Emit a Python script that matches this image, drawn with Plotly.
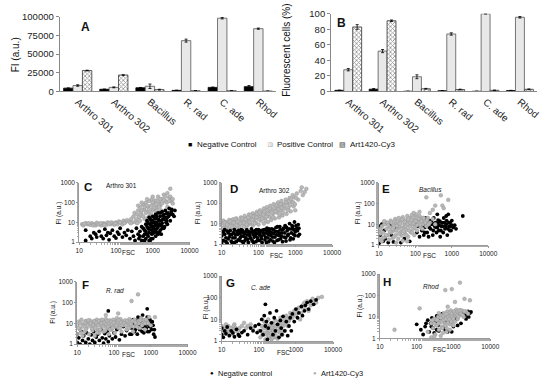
import plotly.graph_objects as go

W, H = 550, 386
def px(x): return x / W
def py(y): return 1 - y / H

categories = ["Arthro 301", "Arthro 302", "Bacillus", "R. rad", "C. ade", "Rhod"]

# Panel A: FI (a.u.)
A_neg = [4500, 3000, 5000, 1500, 5500, 6500]
A_neg_err = [300, 300, 400, 300, 400, 1500]
A_pos = [8000, 5500, 7000, 68000, 98000, 84000]
A_pos_err = [1000, 600, 3000, 2000, 1000, 800]
A_art = [28000, 22000, 2500, 1000, 1000, 500]
A_art_err = [500, 400, 500, 200, 200, 100]

# Panel B: fluorescent cells (%)
B_neg = [1.5, 3.0, 0.3, 1.0, 0.3, 1.2]
B_neg_err = [0.3, 0.8, 0.1, 0.2, 0.1, 0.3]
B_pos = [28, 52, 19, 74, 100, 95.5]
B_pos_err = [1.5, 2.0, 2.5, 1.5, 0.3, 1.0]
B_art = [83, 91, 3.5, 2.5, 1.5, 2.8]
B_art_err = [3.0, 1.0, 0.5, 0.5, 0.3, 0.5]

# Scatter panels (FSC, FI)
C_art = [(12,8),(13,7),(15,9),(17,8),(20,7.5),(22,9),(25,8),(28,7),(30,9.5),(35,8),(40,7),(45,9),(50,8.5),(55,7.5),
         (60,10),(70,8),(80,9),(90,7.5),(100,10),(110,8),(120,11),(140,9),(160,12),(180,10),(200,13),(230,11),(260,15),
         (280,10),(300,20),(320,30),(350,14),(380,25),(400,40),(420,18),(450,60),(480,30),(500,22),(550,80),(580,45),
         (600,15),(650,100),(700,35),(750,60),(800,120),(850,25),(900,70),(950,150),(1000,45),(1100,90),(1200,130),
         (1300,60),(1400,200),(1500,100),(1600,70),(1800,150),(2000,250),(2200,120),(2500,300),(2800,180),(3000,500),
         (3200,120),(3500,90),(1000,200),(700,150),(500,100),(600,60),(400,70),(1200,35),(1700,40),(2500,60),(700,12),(900,18),
         (350,10),(450,12),(500,40),(550,20),(650,30),(700,70),(750,18),(800,45),(900,30),(1000,100),(1100,55),(1200,80),
         (1300,40),(1400,120),(1500,60),(1600,150),(1800,90),(2000,130),(2200,200),(2400,100),(2800,120),(3000,200),
         (3500,150),(380,9),(250,9),(150,8),(75,10),(33,8),(14,8.5),(18,9),(24,7),(38,9),(48,7.5),(65,8.5),(95,9),(130,10),(170,9)]
C_neg = [(15,1.2),(15,4),(20,2),(22,1.5),(25,3),(28,2.5),(30,1.8),(35,3.5),(40,2),(45,1.5),(50,4.5),(55,2.2),(60,3),
         (65,1.3),(70,2.8),(80,4),(90,2),(100,1.6),(110,3.2),(120,2.5),(130,5),(150,1.8),(170,3),(190,2.2),(210,4),
         (240,1.5),(270,3.5),(300,2),(330,1.2),(360,5),(400,2.5),(420,1.5),(450,3.5),(500,1.2),(500,6),(550,2),(600,4),
         (650,8),(700,2.5),(700,12),(750,5),(800,3),(800,18),(850,8),(900,1.5),(900,12),(950,4),(1000,20),(1000,6),
         (1100,3),(1100,10),(1200,25),(1200,15),(1300,5),(1300,8),(1400,30),(1500,12),(1500,3),(1600,20),(1700,7),
         (1800,35),(1900,15),(2000,5),(2000,25),(2200,40),(2300,10),(2500,18),(2600,30),(2800,50),(3000,12),(3200,35),
         (3500,25),(4000,40),(3800,20),(2500,8),(1700,2.5),(1200,2),(650,1.5),(850,1.2),
         (450,2),(550,5),(600,2.5),(650,3.5),(700,6),(750,9),(750,2),(800,4.5),(850,15),(900,6),(950,9),(950,2.5),
         (1000,3),(1000,12),(1050,5),(1100,18),(1150,7),(1200,4),(1250,10),(1300,20),(1350,3),(1400,6),(1450,14),
         (1500,8),(1600,4),(1600,30),(1700,12),(1800,9),(1900,22),(2000,14),(2100,6),(2200,18),(2400,28),(2400,12),
         (2700,20),(3000,25),(3300,45),(1800,5),(1400,2.5),(1000,1.5),(800,1.2),(600,1.2)]
D_art = [(10,5),(10,10),(11,14),(12,7),(13,12),(14,6),(15,9),(16,15),(18,6),(18,11),(20,8),(20,16),(22,12),(24,6),
         (25,18),(27,9),(30,13),(30,7),(33,20),(35,10),(38,15),(40,7),(42,24),(45,12),(48,18),(50,8),(55,28),(55,14),
         (60,10),(65,20),(70,32),(70,8),(75,15),(80,25),(85,11),(90,38),(95,18),(100,9),(100,28),(110,45),(115,14),
         (120,22),(130,35),(140,10),(140,55),(150,18),(160,28),(170,65),(180,12),(190,40),(200,22),(210,75),(220,15),
         (240,50),(250,30),(260,90),(280,18),(300,60),(320,35),(340,110),(360,20),(380,70),(400,45),(420,130),(450,25),
         (480,90),(500,55),(550,150),(580,30),(600,100),(650,60),(700,180),(750,40),(800,120),(850,250),(900,70),
         (950,200),(1000,45),(1100,300),(1200,150),(1400,400),(1600,250),(1800,350),(2000,500),(1500,600),
         (11,6),(12,11),(14,9),(15,5),(17,13),(19,7),(21,11),(23,17),(26,8),(28,13),(32,10),(36,18),(40,11),(44,16),
         (47,9),(52,20),(58,12),(62,26),(68,15),(73,22),(78,10),(88,20),(92,30),(105,16),(108,35),(125,18),(135,28),
         (145,40),(155,14),(165,22),(175,45),(185,30),(200,55),(230,35),(245,20),(270,60),(290,40),(310,80),(350,50),
         (370,28),(400,90),(430,60),(460,35),(520,75),(560,110),(620,45),(680,130),(720,80),(780,160),(880,110),
         (980,90),(1050,180)]
D_neg = [(10,1.2),(10,2.5),(10,4),(11,1.5),(12,3),(12,5),(13,2),(14,1.1),(15,3.5),(16,2.2),(17,4.5),(18,1.4),(19,3),
         (20,2),(22,5),(22,1.2),(24,2.8),(26,4),(28,1.6),(30,3.2),(32,2.1),(34,5),(36,1.3),(38,3.8),(40,2.4),(43,1.5),
         (46,4.2),(50,2.8),(53,1.2),(56,3.5),(60,2),(64,5.5),(68,1.4),(72,3),(76,2.2),(80,4.5),(85,1.3),(90,3.2),(95,2),
         (100,5),(105,1.5),(110,3.6),(118,2.4),(125,1.2),(130,4.8),(140,2.8),(150,1.6),(160,3.5),(170,6),(180,2),
         (190,1.3),(200,4),(215,2.6),(230,5.5),(245,1.4),(260,3.2),(280,2.2),(300,6.5),(320,1.5),(340,4),(360,2.6),
         (380,7),(400,1.8),(430,3.5),(460,5),(500,2.2),(530,8),(560,1.4),(600,4.5),(650,3),(700,10),(750,2),(800,5.5),
         (850,7),(900,3),(950,12),(1000,4),(1100,6),(1200,2.5),(1200,9),(1300,3),
         (11,3.8),(13,1.3),(14,4.3),(15,1.8),(17,2.8),(19,1.2),(21,3.6),(23,2),(25,1.3),(27,3),(29,4.6),(31,1.5),
         (33,3.8),(35,2.5),(37,4.5),(39,1.2),(42,3.2),(45,2),(48,5),(51,1.7),(54,4),(58,2.6),(62,3.8),(66,1.6),(70,4.2),
         (74,1.2),(78,3.5),(83,2.5),(88,5),(93,1.5),(98,3.8),(108,2.8),(115,4.5),(122,1.8),(135,3.5),(145,5),(155,2.2),
         (165,1.2),(175,4.2),(185,3),(195,5.5),(210,1.6),(225,3.6),(240,2.2),(255,5),(270,1.2),(290,4.2),(310,2.8),
         (330,7),(350,1.6),(370,3.2),(390,5),(420,2.4),(450,1.3),(480,6),(520,3.5),(550,2),(580,6.5),(620,2.6),
         (680,5.5),(720,1.6),(780,3.5),(820,8),(880,1.8),(920,5),(980,2.6),(1050,8),(1150,4.5),(1250,6)]
E_art = [(10,2),(10,5),(11,3.5),(12,8),(12,1.5),(13,4),(14,10),(15,2.5),(16,6),(17,12),(18,3),(19,1.8),(20,7),(21,15),
         (22,4),(24,2.2),(25,9),(26,5),(28,18),(29,3),(30,11),(32,6),(34,2),(35,20),(37,8),(39,4),(40,14),(42,2.8),
         (45,22),(47,7),(50,10),(52,3.5),(55,16),(58,5.5),(60,25),(63,2.5),(66,12),(70,8),(73,20),(76,4),(80,28),(83,10),
         (86,6),(90,15),(93,3),(96,22),(100,9),(105,30),(110,5),(115,16),(120,12),(130,25),(140,7),(150,18),(160,10),
         (180,14),(200,8),(220,20),(130,40),(90,35),(250,12),(300,18),(350,10),(200,200),(500,250),(550,80),(800,150),
         (300,50),(350,80),(160,20),(600,60),(250,35),
         (11,6),(13,2.2),(14,14),(16,3),(18,9),(20,4.5),(22,12),(24,6),(26,2.5),(27,14),(30,5),(31,8.5),(33,13),(36,3.5),
         (38,11),(41,6),(44,17),(48,4.5),(51,13),(54,8),(57,3),(61,10),(64,18),(68,5),(72,12),(78,16),(82,4),(88,11),
         (95,7),(102,14),(108,20),(112,9),(125,18),(135,10),(145,14),(155,6),(170,20),(190,12),(210,16),(230,10),
         (60,1.5),(30,1.3),(45,1.6)]
E_neg = [(10,1.2),(10,8),(11,3),(12,10),(13,1.5),(14,5),(15,2),(16,12),(18,1.3),(20,9),(22,3),(25,1.4),(30,6),(40,1.3),
         (50,2),(70,1.5),(100,12),(110,4),(120,8),(130,2.5),(140,15),(150,5),(160,10),(170,3),(180,7),(190,20),(200,12),
         (210,4),(220,9),(230,2.5),(250,15),(260,6),(280,10),(300,3),(320,20),(340,8),(360,12),(380,4),(400,7),(420,16),
         (450,9),(480,2.5),(500,5),(530,12),(560,8),(600,20),(650,6),(700,10),(750,3),(800,30),(850,8),(900,12),(950,5),
         (1000,9),(1100,7),(2000,25),(700,25),(400,30),(1000,15),
         (120,14),(150,8),(180,4),(200,18),(240,7),(270,14),(310,5),(330,11),(370,7),(410,11),(440,5),(470,14),(520,8),
         (580,4),(620,12),(680,8),(720,15),(780,6),(820,12),(880,5),(920,8),(1200,9),(1300,6)]
F_art = [(10,3),(10,8),(11,12),(12,5),(13,15),(14,2.5),(15,9),(16,4),(17,13),(18,6),(20,10),(21,3),(22,14),(24,7),
         (26,4.5),(28,12),(30,2.5),(32,9),(34,15),(36,5),(38,11),(40,3.5),(43,14),(46,7),(50,12),(53,4),(56,9),(60,16),
         (64,6),(68,11),(72,3),(76,14),(80,8),(85,5),(90,12),(95,15),(100,7),(105,3.5),(110,11),(120,14),(130,6),(140,9),
         (150,16),(160,4),(170,12),(180,8),(200,14),(220,5),(240,10),(260,16),(280,7),(300,12),(330,4),(360,15),(400,9),
         (450,13),(500,6),(550,18),(600,10),(650,14),(700,5),(800,12),(900,20),(1000,8),(1300,20),(120,18),(60,25),
         (300,120),(450,250),(130,30),
         (11,6),(12,10),(13,3.5),(14,7),(16,11),(17,5),(19,8),(20,14),(23,10),(25,5.5),(27,8),(29,13),(31,6),(33,11),
         (35,3.5),(37,8),(39,13),(42,5),(45,10),(48,15),(51,7),(55,11),(58,4.5),(62,9),(66,13),(70,7),(74,10),(78,5),
         (82,12),(88,9),(92,6),(98,11),(115,8),(125,11),(135,14),(145,6),(155,11),(165,8),(190,10),(210,8),(230,13),
         (250,6),(270,11),(290,9),(320,13),(340,7),(380,11),(420,7),(480,10),(520,14),(580,8),(700,10),(750,15),(850,10)]
F_neg = [(10,1.2),(10,3),(11,2),(12,1),(13,4),(14,1.5),(15,2.5),(17,1.2),(18,3.5),(20,1.8),(22,1),(24,2.8),(26,1.5),
         (28,4),(30,1.2),(33,2.2),(36,3),(40,1.5),(44,5),(48,2),(52,1.1),(56,3.2),(60,1.8),(65,4),(70,1.3),(70,40),
         (75,2.5),(80,6),(90,1.8),(100,3.5),(110,2.2),(120,5),(140,1.6),(160,3),(180,7),(200,2.5),(220,4.5),(250,10),
         (270,3),(300,6),(330,15),(360,4),(400,8),(430,3),(460,12),(500,5),(550,18),(600,7),(650,3.5),(700,14),(750,6),
         (800,50),(800,20),(850,9),(900,4),(950,15),(1000,7),(1100,12),(1200,3),(1300,2.2),(600,25),(450,20),
         (300,3),(350,9),(380,5),(420,14),(480,7),(520,10),(580,4),(620,12),(680,8),(720,5),(780,11),(820,4),(880,13),
         (920,7),(980,10),(1050,5),(1150,8),(1250,5)]
G_art = [(10,3),(10,5),(11,2.5),(12,4),(13,6),(14,3),(15,5),(16,2.5),(18,4),(20,3.5),(22,6),(25,3),(30,4),(40,7),
         (50,5),(70,4),(100,3),(110,1.5),(120,5),(130,2),(140,8),(150,1.2),(160,4),(170,2.5),(180,10),(190,1.5),(200,5),
         (210,3),(220,1.2),(230,7),(240,2),(250,4),(270,1.5),(280,9),(300,3),(320,1.3),(340,6),(360,2.5),(380,12),
         (400,4),(430,2),(460,8),(500,3),(550,15),(600,5),(650,9),(700,20),(800,12),(900,25),(1000,15),(1200,35),
         (1400,20),(1600,50),(1800,30),(2000,70),(2500,45),(3000,80),(3500,60),(4000,100),(5000,110),(2200,25),(1300,10),
         (12,3),(17,4),(19,2.2),(21,5),(24,4),(28,3),(35,5),(45,4),(60,6),(115,3),(125,2),(135,4),(145,2.5),(155,6),
         (165,2),(175,3.5),(185,1.8),(195,3),(205,6),(215,2.2),(225,4),(235,1.5),(245,3),(255,6),(265,2),(275,4),
         (290,1.8),(310,5),(330,3),(350,8),(370,4),(390,6),(420,3),(450,5),(480,10),(520,6),(580,11),(620,8),(700,12),
         (750,16),(850,18),(950,22),(1100,28),(1500,35),(1700,60),(2400,60),(2800,90)]
G_neg = [(10,2),(10,4),(11,1.5),(12,3),(13,2.2),(14,4.5),(16,1.8),(18,3),(20,2.4),(22,1.6),(25,3.5),(28,2),(30,1.7),
         (35,2.5),(40,3),(50,2),(60,4),(70,3),(80,5),(90,2.5),(100,6),(110,3),(120,10),(130,2),(140,15),(150,50),(150,5),
         (160,8),(170,1.2),(180,4),(200,20),(220,7),(240,2),(260,12),(280,3),(300,25),(320,6),(350,1.5),(380,9),(400,4),
         (420,2),(450,14),(500,3),(550,8),(600,1.8),(650,5),(700,12),(750,3),(800,18),(900,8),(1000,30),(1100,12),
         (1200,20),(1400,40),(1500,15),(1700,25),(2000,60),(2200,30),(2500,70),(3000,50),(3500,80),(1800,45)]
H_art = [(25,2.5),(120,25),(200,2),(250,5),(280,3),(300,8),(320,1.5),(350,4),(380,10),(400,2.5),(420,6),(450,12),
         (480,3.5),(500,8),(520,1.8),(550,15),(580,5),(600,10),(650,3),(680,18),(700,7),(750,12),(800,4.5),(850,20),
         (900,9),(950,6),(1000,15),(1100,11),(1200,22),(1300,8),(1400,16),(1500,12),(1700,20),(1900,10),(2200,18),
         (2500,14),(600,180),(900,200),(1500,400),(2000,70),(1100,50),(2800,60),(700,30),(400,15),(300,1.2),(250,1.1),
         (450,1.3),
         (350,7),(400,5),(450,9),(480,6),(520,11),(550,7),(580,13),(620,8),(650,14),(700,5),(720,10),(780,8),(800,16),
         (850,11),(880,6),(900,14),(950,10),(1000,8),(1050,18),(1100,6),(1150,14),(1250,12),(1300,18),(1350,10),
         (1450,20),(1600,14),(1800,12),(2000,18),(300,5),(270,7),(500,3),(650,2),(800,2.5),(1000,4),(600,4)]
H_neg = [(100,4.5),(130,2.5),(150,1.5),(170,3.5),(200,7),(220,2),(240,5),(260,9),(280,3),(300,1.8),(320,6),(350,11),
         (380,4),(400,2.2),(450,8),(500,14),(550,3),(600,6),(650,10),(700,2),(750,16),(800,5),(900,12),(1000,3.5),
         (1100,18),(1200,8),(1400,14),(1600,5),(1800,16),(2000,12),(2200,8),(2500,18),(2800,15),(3000,17),
         (180,5),(250,3.5),(350,2.5),(420,12),(600,2.5),(900,2),(1300,4),(1500,20),(2400,12),(2600,10)]

FONT = "Arial, Liberation Sans, sans-serif"
fig = go.Figure()

hatch = dict(shape="x", size=3, fgcolor="#222222", bgcolor="#ffffff", solidity=0.45)
bar_specs = [
    ("Negative Control", A_neg, A_neg_err, B_neg, B_neg_err, dict(color="black", line=dict(color="black", width=0.8))),
    ("Positive Control", A_pos, A_pos_err, B_pos, B_pos_err, dict(color="#e8e8e8", line=dict(color="#555555", width=0.8))),
    ("Art1420-Cy3", A_art, A_art_err, B_art, B_art_err, dict(color="#444444", pattern=hatch, line=dict(color="#333333", width=0.8))),
]
for name, av, ae, bv, be, mk in bar_specs:
    fig.add_trace(go.Bar(x=categories, y=av, name=name, marker=mk, xaxis="x", yaxis="y",
                         error_y=dict(type="data", array=ae, color="black", thickness=0.8, width=1.5),
                         showlegend=False))
    fig.add_trace(go.Bar(x=categories, y=bv, name=name, marker=mk, xaxis="x2", yaxis="y2",
                         error_y=dict(type="data", array=be, color="black", thickness=0.8, width=1.5),
                         showlegend=False))

panels = [
    ("C", "Arthro 301", C_art, C_neg, True),
    ("D", "Arthro 302", D_art, D_neg, True),
    ("E", "Bacillus", E_art, E_neg, False),
    ("F", "R. rad", F_art, F_neg, False),
    ("G", "C. ade", G_art, G_neg, True),
    ("H", "Rhod", H_art, H_neg, False),
]
gray_mk = dict(color="#b8b8b8", size=3.8, line=dict(color="#909090", width=0.4))
black_mk = dict(color="black", size=3.8, line=dict(width=0))
for i, (letter, name, art, neg, gray_first) in enumerate(panels):
    ax = i + 3
    ax_x, ax_y = f"x{ax}", f"y{ax}"
    ax_, ay_ = zip(*art)
    nx_, ny_ = zip(*neg)
    tr_art = go.Scatter(x=ax_, y=ay_, mode="markers", marker=gray_mk, name="Art1420-Cy3",
                        xaxis=ax_x, yaxis=ax_y, showlegend=False)
    tr_neg = go.Scatter(x=nx_, y=ny_, mode="markers", marker=black_mk, name="Negative control",
                        xaxis=ax_x, yaxis=ax_y, showlegend=False)
    if gray_first:
        fig.add_trace(tr_art); fig.add_trace(tr_neg)
    else:
        fig.add_trace(tr_neg); fig.add_trace(tr_art)

layout = dict(
    width=W, height=H, margin=dict(l=0, r=0, t=0, b=0),
    paper_bgcolor="white", plot_bgcolor="white",
    font=dict(family=FONT, color="#222222"),
    barmode="group", bargap=0.22, bargroupgap=0,
)

cat_axis = dict(type="category", showline=True, linecolor="#888", linewidth=1, ticks="",
                tickangle=40, tickfont=dict(size=10, color="#222"), showgrid=False, zeroline=False)
layout["xaxis"] = dict(cat_axis, domain=[px(57), px(279)], anchor="y", range=[-0.5, 5.5])
layout["yaxis"] = dict(domain=[py(88), py(11)], anchor="x", range=[0, 100000], showline=True, linecolor="#888",
                       ticks="outside", ticklen=3, tickcolor="#888", tickvals=[0, 25000, 50000, 75000, 100000],
                       tickformat="d", tickfont=dict(size=9.5, color="#222"), showgrid=False, zeroline=False)
layout["xaxis2"] = dict(cat_axis, domain=[px(335), px(546)], anchor="y2", range=[-0.5, 5.5])
layout["yaxis2"] = dict(domain=[py(88), py(8)], anchor="x2", range=[0, 100], showline=True, linecolor="#888",
                        ticks="outside", ticklen=3, tickcolor="#888", tickvals=[0, 20, 40, 60, 80, 100],
                        tickfont=dict(size=9.5, color="#222"), showgrid=False, zeroline=False)

boxes = [
    (77, 190, 182, 243), (223, 336, 182, 245), (384, 496, 182, 246),
    (75, 188, 284, 348), (223, 337, 278, 345), (385, 498, 276, 342),
]
for i, (x0, x1, y0, y1) in enumerate(boxes):
    ax = i + 3
    layout[f"xaxis{ax}"] = dict(type="log", range=[1, 4], domain=[px(x0), px(x1)], anchor=f"y{ax}",
                                showline=True, linecolor="#999", linewidth=1, ticks="outside", ticklen=2,
                                tickcolor="#999", tickvals=[10, 100, 1000, 10000],
                                ticktext=["10", "100", "1000", "10000"], tickfont=dict(size=6.5, color="#222"),
                                minor=dict(ticks="outside", ticklen=1.5, tickcolor="#aaa"),
                                showgrid=False, zeroline=False)
    layout[f"yaxis{ax}"] = dict(type="log", range=[0, 3], domain=[py(y1), py(y0)], anchor=f"x{ax}",
                                showline=True, linecolor="#999", linewidth=1, ticks="outside", ticklen=2,
                                tickcolor="#999", tickvals=[1, 10, 100, 1000],
                                ticktext=["1", "10", "100", "1000"], tickfont=dict(size=6.5, color="#222"),
                                minor=dict(ticks="outside", ticklen=1.5, tickcolor="#aaa"),
                                showgrid=False, zeroline=False)

ann = []
def A(x, y, text, size, color="#111", xanchor="center", **kw):
    d = dict(x=px(x), y=py(y), xref="paper", yref="paper", text=text, showarrow=False,
             xanchor=xanchor, yanchor="middle", font=dict(size=size, family=FONT, color=color))
    d.update(kw)
    ann.append(d)

A(77, 22, "<b>A</b>", 12, xanchor="left")
A(339, 17, "<b>B</b>", 12, xanchor="left")
A(12, 50, "FI (a.u.)", 10, textangle=-90)
A(290, 46, "Fluorescent cells (%)", 10, textangle=-90)

# top legend (bars)
A(191, 143, "■", 7, color="black")
A(196, 143, "Negative Control", 8, xanchor="left")
A(273, 143, "■", 7, color="#e4e4e4")
A(273, 143, "□", 7, color="#666")
A(278, 143, "Positive Control", 8, xanchor="left")
A(347, 143, "▨", 7, color="#444")
A(352, 143, "Art1420-Cy3", 8, xanchor="left")

# bottom legend (scatter)
A(213, 378, "●", 6, color="black")
A(217, 378, "Negative control", 7.5, xanchor="left")
A(319, 378, "●", 6, color="#b0b0b0")
A(323, 378, "Art1420-Cy3", 7.5, xanchor="left")

letters = [(80, 186), (229, 188), (385, 188), (78, 287), (225, 285), (386, 284)]
names = [(102, 185, "Arthro 301", False), (259, 190, "Arthro 302", False), (423, 189, "Bacillus", True),
         (102, 293, "R. rad", True), (251, 290, "C. ade", True), (427, 289, "Rhod", True)]
ylabs = [(56, 213), (199, 213), (363, 213), (50, 315), (207, 311), (365, 309)]
fscs = [(128, 254), (279, 257), (436, 257), (128, 359), (286, 357), (446, 354)]
for (lx, ly), (nx, ny, nm, it), (yx, yy), (fx, fy), (pl, *_ ) in zip(letters, names, ylabs, fscs, panels):
    A(lx, ly, f"<b>{pl}</b>", 11.5, xanchor="left")
    A(nx, ny, f"<i>{nm}</i>" if it else nm, 6.5, xanchor="left")
    A(yx, yy, "FI (a.u.)", 6.5, textangle=-90)
    A(fx, fy, "FSC", 6.5)

layout["annotations"] = ann
fig.update_layout(**layout)
fig.write_html("out.html", config={"displayModeBar": False},
               post_script="document.body.style.margin='0';document.body.style.overflow='hidden';")
